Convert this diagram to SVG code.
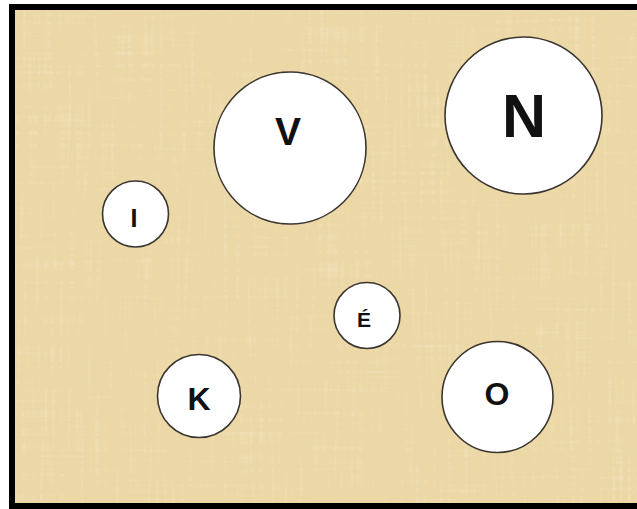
<svg xmlns="http://www.w3.org/2000/svg" width="637" height="509" viewBox="0 0 637 509">
  <style>
    .node circle { fill: #ffffff; stroke: #3a3530; stroke-width: 1.6; }
    .node text { font-family: "Liberation Sans", Arial, sans-serif; font-weight: bold; fill: #111111; text-anchor: middle; }
  </style>
  <defs>
    <filter id="streaksDark" x="0" y="0" width="100%" height="100%" filterUnits="objectBoundingBox">
      <feTurbulence type="fractalNoise" baseFrequency="0.30 0.012" numOctaves="2" seed="4" result="v"/>
      <feTurbulence type="fractalNoise" baseFrequency="0.012 0.30" numOctaves="2" seed="9" result="h"/>
      <feComposite in="v" in2="h" operator="arithmetic" k2="0.6" k3="0.45" k4="-0.05"/>
      <feColorMatrix type="matrix" values="0 0 0 0 0.80  0 0 0 0 0.68  0 0 0 0 0.42  1.2 0 0 0 -0.58"/>
    </filter>
    <filter id="streaksLight" x="0" y="0" width="100%" height="100%" filterUnits="objectBoundingBox">
      <feTurbulence type="fractalNoise" baseFrequency="0.25 0.01" numOctaves="2" seed="21" result="v"/>
      <feTurbulence type="fractalNoise" baseFrequency="0.01 0.25" numOctaves="2" seed="33" result="h"/>
      <feComposite in="v" in2="h" operator="arithmetic" k2="0.6" k3="0.45" k4="-0.05"/>
      <feColorMatrix type="matrix" values="0 0 0 0 0.96  0 0 0 0 0.90  0 0 0 0 0.74  1.1 0 0 0 -0.55"/>
    </filter>
  </defs>

  <rect x="0" y="0" width="637" height="509" fill="#ffffff"/>
  <g id="background">
    <rect x="12" y="7" width="640" height="499" fill="#ecd8a6"/>
    <rect x="12" y="7" width="640" height="499" fill="#000" filter="url(#streaksDark)"/>
    <rect x="12" y="7" width="640" height="499" fill="#000" filter="url(#streaksLight)"/>
    <rect x="12" y="7" width="640" height="499" fill="none" stroke="#000000" stroke-width="6"/>
  </g>

  <g id="connectors"></g>

  <g id="node-V" class="node">
    <circle cx="290" cy="148" r="76"/>
    <text x="288" y="145" font-size="39">V</text>
  </g>
  <g id="node-N" class="node">
    <circle cx="523.5" cy="115.5" r="78.5"/>
    <text x="524" y="137" font-size="61">N</text>
  </g>
  <g id="node-I" class="node">
    <circle cx="135.5" cy="214" r="33"/>
    <text x="134" y="227" font-size="25">I</text>
  </g>
  <g id="node-E" class="node">
    <circle cx="367" cy="315.5" r="33"/>
    <text x="364" y="327" font-size="21">É</text>
  </g>
  <g id="node-K" class="node">
    <circle cx="199" cy="396" r="41.5"/>
    <text x="199" y="410" font-size="32">K</text>
  </g>
  <g id="node-O" class="node">
    <circle cx="497.5" cy="397" r="55.5"/>
    <text x="497" y="405" font-size="32">O</text>
  </g>
</svg>
